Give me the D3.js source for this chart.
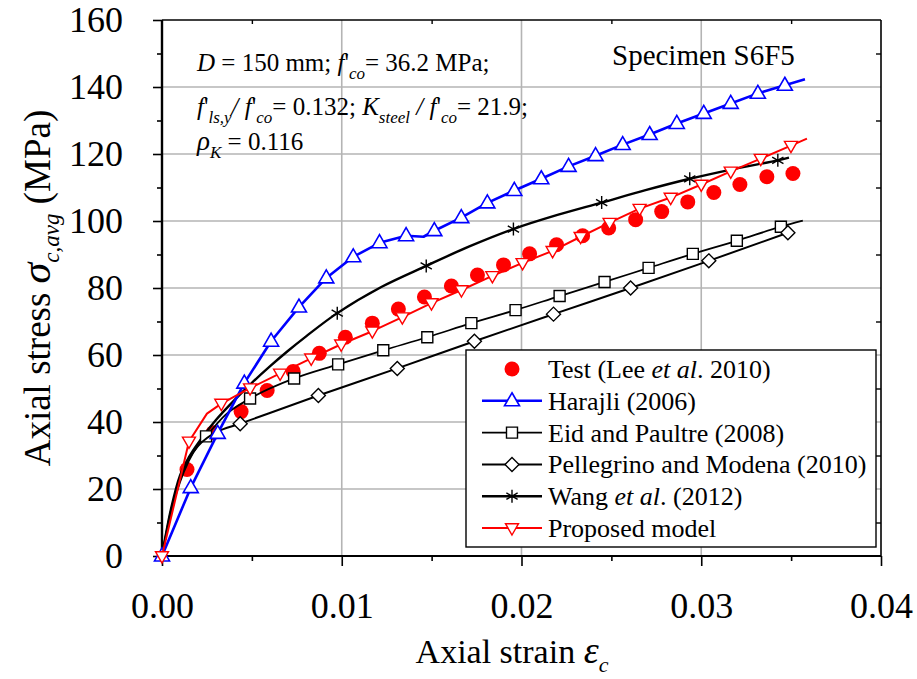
<!DOCTYPE html>
<html>
<head>
<meta charset="utf-8">
<script src="https://cdn.jsdelivr.net/npm/d3@7"></script>
<style>
  html, body { margin: 0; padding: 0; background: #fff; }
  svg { display: block; font-family: "Liberation Serif", "Times New Roman", serif; }
</style>
</head>
<body>
<svg id="chart" width="917" height="679"></svg>
<script>
// Axial stress–strain response of specimen S6F5: test points and five confinement models.
const xTicks = [0, 0.01, 0.02, 0.03, 0.04];
const xTickLabels = ["0.00", "0.01", "0.02", "0.03", "0.04"];
const yTicks = [0, 20, 40, 60, 80, 100, 120, 140, 160];

// Test (Lee et al. 2010): [strain, stress MPa]
const testData = [
  [0.00139, 25.8], [0.00284, 36.8], [0.0044, 43.1], [0.00585, 49.4], [0.0073, 55.1],
  [0.00875, 60.5], [0.0102, 65.3], [0.0117, 69.5], [0.01315, 73.7], [0.0146, 77.3],
  [0.0161, 80.6], [0.01755, 83.9], [0.019, 86.9], [0.02045, 90.2], [0.02195, 92.9],
  [0.0234, 95.6], [0.02485, 97.9], [0.02635, 100.4], [0.0278, 102.8], [0.02925, 105.7],
  [0.0307, 108.5], [0.03215, 110.9], [0.03365, 113.2], [0.0351, 114.2]
];

// Harajli (2006)
const harajliLine = [
  [0, 0], [0.0016, 20.4], [0.0031, 36.6], [0.00458, 51.6], [0.00607, 64.1], [0.00762, 74.3],
  [0.00914, 83.0], [0.01064, 89.3], [0.0121, 93.5], [0.01358, 95.6], [0.01455, 95.3],
  [0.01515, 97.1], [0.01665, 101.0], [0.0181, 105.4], [0.0196, 109.1], [0.0211, 112.6],
  [0.02262, 116.3], [0.02412, 119.5], [0.02563, 122.8], [0.02713, 125.8], [0.02864, 129.1],
  [0.03014, 132.1], [0.03164, 135.1], [0.03315, 138.1], [0.03465, 140.5], [0.03577, 142.3]
];
const harajliMarks = [
  [0, 0], [0.0016, 20.4], [0.0031, 36.6], [0.00458, 51.6], [0.00607, 64.1], [0.00762, 74.3],
  [0.00914, 83.0], [0.01064, 89.3], [0.0121, 93.5], [0.01358, 95.6],
  [0.01515, 97.1], [0.01665, 101.0], [0.0181, 105.4], [0.0196, 109.1], [0.0211, 112.6],
  [0.02262, 116.3], [0.02412, 119.5], [0.02563, 122.8], [0.02713, 125.8], [0.02864, 129.1],
  [0.03014, 132.1], [0.03164, 135.1], [0.03315, 138.1], [0.03465, 140.5]
];

// Eid and Paultre (2008)
const eidLine = [
  [0, 0], [0.0005, 13], [0.001, 22], [0.0015, 28.5], [0.002, 33], [0.00245, 35.7], [0.0035, 42],
  [0.0049, 47.0], [0.00735, 53.0], [0.0098, 57.2], [0.01231, 61.4], [0.01476, 65.3],
  [0.01721, 69.5], [0.01967, 73.4], [0.02212, 77.6], [0.02462, 81.8], [0.02707, 86.0],
  [0.02953, 90.2], [0.03198, 94.1], [0.03443, 98.3], [0.03565, 100.1]
];
const eidMarks = [
  [0.00245, 35.7], [0.0049, 47.0], [0.00735, 53.0], [0.0098, 57.2], [0.01231, 61.4],
  [0.01476, 65.3], [0.01721, 69.5], [0.01967, 73.4], [0.02212, 77.6], [0.02462, 81.8],
  [0.02707, 86.0], [0.02953, 90.2], [0.03198, 94.1], [0.03443, 98.3]
];

// Pellegrino and Modena (2010)
const pellegrinoLine = [
  [0, 0], [0.0005, 13.5], [0.001, 23], [0.0015, 29], [0.002, 32.8], [0.0025, 35.2], [0.003, 36.9],
  [0.00435, 39.5], [0.0087, 47.9], [0.01309, 56.0], [0.01738, 64.1], [0.02178, 72.2],
  [0.02607, 80.0], [0.03042, 88.1], [0.03482, 96.5]
];
const pellegrinoMarks = [
  [0.00435, 39.5], [0.0087, 47.9], [0.01309, 56.0], [0.01738, 64.1], [0.02178, 72.2],
  [0.02607, 80.0], [0.03042, 88.1], [0.03482, 96.5]
];

// Wang et al. (2012)
const wangLine = [
  [0, 0], [0.0005, 14], [0.001, 24], [0.0015, 29.5], [0.002, 33.6], [0.003, 40.6], [0.004, 46.4],
  [0.005, 51.7], [0.006, 56.6], [0.007, 61.2], [0.008, 65.5], [0.00975, 72.5], [0.0122, 80.3],
  [0.0147, 86.6], [0.0171, 92.4], [0.01955, 97.6], [0.022, 101.8], [0.02446, 105.5],
  [0.0269, 109.2], [0.02936, 112.6], [0.0318, 115.5], [0.03426, 118.1], [0.03488, 118.9]
];
const wangMarks = [
  [0.00975, 72.5], [0.0147, 86.6], [0.01955, 97.6], [0.02446, 105.5], [0.02936, 112.6], [0.03426, 118.1]
];

// Proposed model
const proposedLine = [
  [0, 0], [0.0015, 34.2], [0.0025, 42.5], [0.0033, 45.5], [0.0049, 50.1], [0.00657, 54.5],
  [0.0083, 59.0], [0.00997, 63.2], [0.0117, 67.1], [0.01337, 71.3], [0.01499, 75.5],
  [0.01666, 79.4], [0.01838, 83.6], [0.02006, 87.5], [0.02173, 91.1], [0.02329, 95.3],
  [0.0249, 99.5], [0.02657, 103.7], [0.0283, 107.0], [0.03, 110.9], [0.03164, 114.8],
  [0.03331, 118.6], [0.03499, 122.5], [0.03588, 124.6]
];
const proposedMarks = [
  [0, 0], [0.0015, 34.2], [0.0033, 45.5], [0.0049, 50.1], [0.00657, 54.5],
  [0.0083, 59.0], [0.00997, 63.2], [0.0117, 67.1], [0.01337, 71.3], [0.01499, 75.5],
  [0.01666, 79.4], [0.01838, 83.6], [0.02006, 87.5], [0.02173, 91.1], [0.02329, 95.3],
  [0.0249, 99.5], [0.02657, 103.7], [0.0283, 107.0], [0.03, 110.9], [0.03164, 114.8],
  [0.03331, 118.6], [0.03499, 122.5]
];

const legendLabels = [
  ["Test (Lee ", "et al", ". 2010)"],
  ["Harajli (2006)"],
  ["Eid and Paultre (2008)"],
  ["Pellegrino and Modena (2010)"],
  ["Wang ", "et al", ". (2012)"],
  ["Proposed model"]
];

// ---------------------------------------------------------------------------
const svg = d3.select("#chart");
const L = 162, R = 881, T = 20, B = 556;
const x = d3.scaleLinear().domain([0, 0.04]).range([L, R]);
const y = d3.scaleLinear().domain([0, 160]).range([B, T]);
const grid = "#b4b4b4";

// grid lines
svg.append("g").selectAll("line").data(xTicks.slice(1, -1)).join("line")
  .attr("x1", d => x(d)).attr("x2", d => x(d)).attr("y1", T).attr("y2", B)
  .attr("stroke", grid).attr("stroke-width", 1.6);
svg.append("g").selectAll("line").data(yTicks.slice(1, -1)).join("line")
  .attr("x1", L).attr("x2", R).attr("y1", d => y(d)).attr("y2", d => y(d))
  .attr("stroke", grid).attr("stroke-width", 1.6);

// bottom axis (outward ticks)
const xMinor = d3.range(0.005, 0.04, 0.01);
const xAxis = d3.axisBottom(x).tickValues(xTicks).tickFormat((d, i) => xTickLabels[i])
  .tickSize(10).tickPadding(26);
const gx = svg.append("g").attr("transform", `translate(0,${B})`).call(xAxis);
gx.select(".domain").remove();
gx.selectAll(".tick line").attr("stroke", "#000").attr("stroke-width", 1.6);
gx.selectAll(".tick text").attr("font-family", "Liberation Serif").attr("font-size", 36).attr("fill", "#000");
svg.append("g").attr("transform", `translate(0,${B})`)
  .call(d3.axisBottom(x).tickValues(xMinor).tickSize(5).tickFormat(""))
  .call(g => g.select(".domain").remove())
  .selectAll("line").attr("stroke", "#000").attr("stroke-width", 1.6);

// left axis (outward ticks)
const yAxis = d3.axisLeft(y).tickValues(yTicks).tickSize(9).tickPadding(30);
const gy = svg.append("g").attr("transform", `translate(${L},0)`).call(yAxis);
gy.select(".domain").remove();
gy.selectAll(".tick line").attr("stroke", "#000").attr("stroke-width", 1.6);
gy.selectAll(".tick text").attr("font-family", "Liberation Serif").attr("font-size", 36).attr("fill", "#000");
const yMinor = d3.range(10, 160, 20);
svg.append("g").attr("transform", `translate(${L},0)`)
  .call(d3.axisLeft(y).tickValues(yMinor).tickSize(5).tickFormat(""))
  .call(g => g.select(".domain").remove())
  .selectAll("line").attr("stroke", "#000").attr("stroke-width", 1.6);

// top and right axes (inward minor ticks)
svg.append("g").attr("transform", `translate(0,${T})`)
  .call(d3.axisBottom(x).tickValues(xMinor).tickSize(4).tickFormat(""))
  .call(g => g.select(".domain").remove())
  .selectAll("line").attr("stroke", "#000").attr("stroke-width", 1.4);
svg.append("g").attr("transform", `translate(${R},0)`)
  .call(d3.axisLeft(y).tickValues(yMinor).tickSize(5).tickFormat(""))
  .call(g => g.select(".domain").remove())
  .selectAll("line").attr("stroke", "#000").attr("stroke-width", 1.4);

// plot frame
svg.append("line").attr("x1", L).attr("x2", R).attr("y1", T).attr("y2", T).attr("stroke", "#000").attr("stroke-width", 1.6);
svg.append("line").attr("x1", R).attr("x2", R).attr("y1", T).attr("y2", B).attr("stroke", "#000").attr("stroke-width", 1.6);
svg.append("line").attr("x1", L).attr("x2", R).attr("y1", B).attr("y2", B).attr("stroke", "#000").attr("stroke-width", 2);
svg.append("line").attr("x1", L).attr("x2", L).attr("y1", T).attr("y2", B).attr("stroke", "#000").attr("stroke-width", 2.4);

// marker shapes
function triUp(s) { const h = s * 0.866; return `M0,${-h * 0.62}L${s / 2},${h * 0.38}L${-s / 2},${h * 0.38}Z`; }
function triDown(s) { const h = s * 0.866; return `M0,${h * 0.62}L${s / 2},${-h * 0.38}L${-s / 2},${-h * 0.38}Z`; }
function square(s) { return `M${-s / 2},${-s / 2}h${s}v${s}h${-s}Z`; }
function diamond(s) { const r = s / 2; return `M0,${-r}L${r},0L0,${r}L${-r},0Z`; }
function star(s) {
  const r = s / 2, a = r * Math.cos(Math.PI / 6), b = r * Math.sin(Math.PI / 6);
  return `M0,${-r}V${r}M${-a},${-b}L${a},${b}M${-a},${b}L${a},${-b}`;
}

const series = [
  { line: wangLine, marks: wangMarks, color: "#000", width: 2.4, curve: d3.curveCatmullRom.alpha(0.5), shape: star(13), fill: "none", mw: 1.4 },
  { line: eidLine, marks: eidMarks, color: "#000", width: 1.8, curve: d3.curveMonotoneX, shape: square(11), fill: "#fff", mw: 1.4 },
  { line: pellegrinoLine, marks: pellegrinoMarks, color: "#000", width: 2.0, curve: d3.curveMonotoneX, shape: diamond(14), fill: "#fff", mw: 1.4 },
  { line: harajliLine, marks: harajliMarks, color: "#0000ff", width: 2.6, curve: d3.curveLinear, shape: triUp(15), fill: "#fff", mw: 1.6 },
  { line: proposedLine, marks: proposedMarks, color: "#ff0000", width: 2.0, curve: d3.curveLinear, shape: triDown(13), fill: "#fff", mw: 1.4 }
];

const lineGen = d3.line().x(d => x(d[0])).y(d => y(d[1]));

// test points below model curves
svg.append("g").selectAll("circle").data(testData).join("circle")
  .attr("cx", d => x(d[0])).attr("cy", d => y(d[1])).attr("r", 7.5).attr("fill", "#ff0000");

series.forEach(s => {
  svg.append("path").datum(s.line)
    .attr("d", lineGen.curve(s.curve))
    .attr("fill", "none").attr("stroke", s.color).attr("stroke-width", s.width)
    .attr("stroke-linejoin", "round");
  svg.append("g").selectAll("path").data(s.marks).join("path")
    .attr("transform", d => `translate(${x(d[0])},${y(d[1])})`)
    .attr("d", s.shape).attr("fill", s.fill).attr("stroke", s.color).attr("stroke-width", s.mw);
});

// annotation block
const ann = svg.append("g").attr("font-family", "Liberation Serif").attr("font-size", 25).attr("fill", "#000");
function sub(t, txt) {
  t.append("tspan").attr("font-style", "italic").attr("font-size", 17).attr("dy", 8).text(txt);
}
let t1 = ann.append("text").attr("x", 197).attr("y", 71);
t1.append("tspan").attr("font-style", "italic").text("D");
t1.append("tspan").text(" = 150 mm;  ");
t1.append("tspan").attr("font-style", "italic").text("f");
t1.append("tspan").text("'");
sub(t1, "co");
t1.append("tspan").attr("dy", -8).text("= 36.2 MPa;");

let t2 = ann.append("text").attr("x", 197).attr("y", 115);
t2.append("tspan").attr("font-style", "italic").text("f");
t2.append("tspan").text("'");
sub(t2, "ls,y");
t2.append("tspan").attr("dy", -8).attr("font-style", "italic").text("/ f");
t2.append("tspan").text("'");
sub(t2, "co");
t2.append("tspan").attr("dy", -8).text("= 0.132; ");
t2.append("tspan").attr("font-style", "italic").text("K");
sub(t2, "steel");
t2.append("tspan").attr("dy", -8).attr("font-style", "italic").text(" / f");
t2.append("tspan").text("'");
sub(t2, "co");
t2.append("tspan").attr("dy", -8).text("= 21.9;");

let t3 = ann.append("text").attr("x", 197).attr("y", 150);
t3.append("tspan").attr("font-style", "italic").attr("font-size", 27).text("ρ");
sub(t3, "K");
t3.append("tspan").attr("dy", -8).text(" = 0.116");

svg.append("text").attr("x", 612).attr("y", 65).attr("font-family", "Liberation Serif")
  .attr("font-size", 29).attr("fill", "#000").text("Specimen S6F5");

// axis titles
const xt = svg.append("text").attr("x", 512).attr("y", 663).attr("text-anchor", "middle")
  .attr("font-family", "Liberation Serif").attr("font-size", 34).attr("fill", "#000");
xt.append("tspan").text("Axial strain ");
xt.append("tspan").attr("font-style", "italic").attr("font-size", 38).text("ε");
xt.append("tspan").attr("font-style", "italic").attr("font-size", 22).attr("dy", 9).text("c");

const yt = svg.append("text").attr("transform", "translate(50,288) rotate(-90)").attr("text-anchor", "middle")
  .attr("font-family", "Liberation Serif").attr("font-size", 37).attr("fill", "#000");
yt.append("tspan").text("Axial stress ");
yt.append("tspan").attr("font-style", "italic").attr("font-size", 42).text("σ");
yt.append("tspan").attr("font-style", "italic").attr("font-size", 23).attr("dy", 9).text("c,avg");
yt.append("tspan").attr("dy", -9).text(" (MPa)");

// legend
const lg = svg.append("g");
lg.append("rect").attr("x", 466).attr("y", 350).attr("width", 410).attr("height", 197)
  .attr("fill", "#fff").attr("stroke", "#000").attr("stroke-width", 1.4);
const rowY = i => 369 + i * 31.8;
const legendSeries = [null, series[3], series[1], series[2], series[0], series[4]];
legendSeries.forEach((s, i) => {
  const yy = rowY(i);
  if (s === null) {
    lg.append("circle").attr("cx", 512).attr("cy", yy).attr("r", 7.5).attr("fill", "#ff0000");
  } else {
    lg.append("line").attr("x1", 482).attr("x2", 542).attr("y1", yy).attr("y2", yy)
      .attr("stroke", s.color).attr("stroke-width", s.width);
    lg.append("path").attr("transform", `translate(512,${yy})`).attr("d", s.shape)
      .attr("fill", s.fill).attr("stroke", s.color).attr("stroke-width", s.mw);
  }
  const t = lg.append("text").attr("x", 548).attr("y", yy + 9).attr("font-family", "Liberation Serif")
    .attr("font-size", 26).attr("fill", "#000");
  legendLabels[i].forEach((part, j) => {
    t.append("tspan").attr("font-style", j === 1 ? "italic" : "normal").text(part);
  });
});
</script>
</body>
</html>
